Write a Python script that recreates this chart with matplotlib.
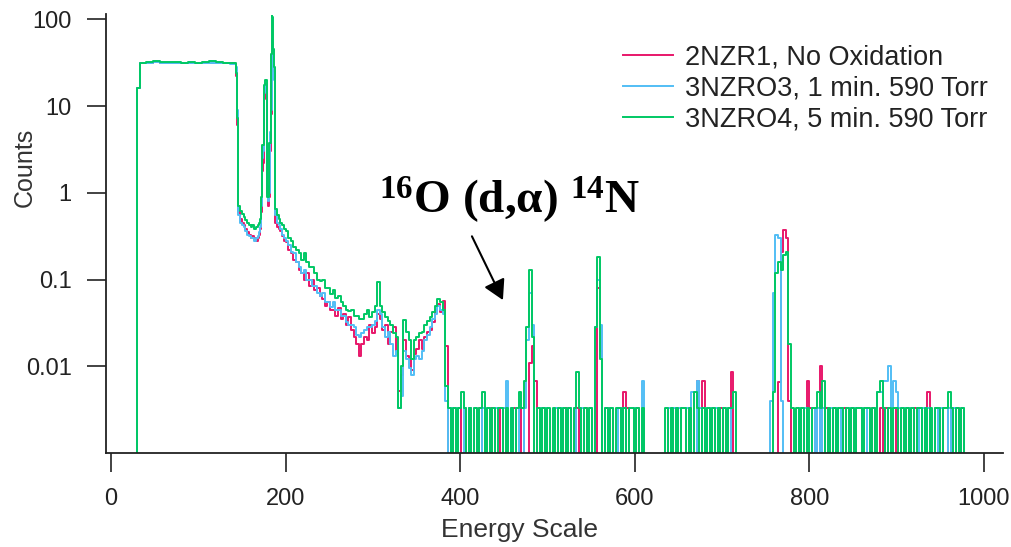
import numpy as np
import matplotlib
matplotlib.use("Agg")
import matplotlib.pyplot as plt
from matplotlib.ticker import NullLocator

plt.rcParams['font.family'] = ['Liberation Sans', 'DejaVu Sans']
plt.rcParams['mathtext.fontset'] = 'custom'
plt.rcParams['mathtext.rm'] = 'Liberation Serif:bold'
plt.rcParams['mathtext.it'] = 'Liberation Serif:bold:italic'
plt.rcParams['mathtext.bf'] = 'Liberation Serif:bold'

labels = ['2NZR1, No Oxidation', '3NZRO3, 1 min. 590 Torr', '3NZRO4, 5 min. 590 Torr']
colors = ['#E8176A', '#52BEF5', '#00C864']

# channel grid (energy scale) for the structured part of the spectrum
e_head = [29, 30, 33, 40, 48, 56, 64, 72, 80, 88, 96, 104, 112, 120, 128, 136, 142]
e_edge = [143, 144, 145, 146, 148, 150, 152, 154, 156, 158, 160, 162, 164, 166, 168,
          170, 171, 172, 173, 174, 175, 176, 177, 178, 179, 180, 181, 182, 183, 184,
          185, 186, 187, 188, 190, 192, 194, 196, 198]
e_tail = list(range(200, 386, 3))

# plateau
red_head = [0, 16, 31, 31.5, 32, 31.5, 31, 31.5, 31.5, 31, 31, 31.5, 31.5, 31, 31, 31, 30.5]
blue_head = [0, 16, 31, 31.5, 32, 31.5, 31, 31, 31.5, 31, 31, 31, 31.5, 31, 31, 30.5, 30.5]
green_head = [0, 16, 31, 32, 33, 32.5, 32, 32, 31.5, 32, 31.5, 32, 33, 32, 31.5, 31, 31]

# edge + twin peaks near 175 / 185
red_edge = [22, 6, 0.9, 0.6, 0.5, 0.45, 0.42, 0.38, 0.35, 0.33, 0.3, 0.32, 0.3, 0.28, 0.3,
            0.33, 0.38, 0.6, 1.8, 2.2, 12, 15, 16, 14, 1, 0.7, 0.9, 3, 8, 18,
            28, 30, 25, 0.45, 0.4, 0.38, 0.36, 0.32, 0.28]
blue_edge = [28, 9, 1.5, 0.55, 0.45, 0.42, 0.4, 0.36, 0.33, 0.32, 0.3, 0.3, 0.28, 0.3, 0.32,
             0.35, 0.4, 0.7, 2.5, 3, 14, 16, 18, 15, 1.2, 0.8, 1, 5, 9, 60,
             55, 30, 20, 0.55, 0.45, 0.42, 0.38, 0.33, 0.3]
green_edge = [24, 7.3, 0.8, 0.7, 0.62, 0.57, 0.52, 0.48, 0.45, 0.42, 0.4, 0.42, 0.38, 0.4, 0.42,
              0.45, 0.5, 0.9, 3.6, 3.6, 17.6, 18, 20, 20, 0.9, 0.9, 3.7, 3.7, 40, 110,
              105, 45, 28, 0.65, 0.55, 0.5, 0.45, 0.42, 0.38]

# decreasing tail 200..383
red_tail = [0.27, 0.22, 0.2, 0.17, 0.16, 0.13, 0.12, 0.1, 0.12, 0.085,
            0.1, 0.075, 0.08, 0.065, 0.06, 0.05, 0.055, 0.045, 0.045, 0.038,
            0.047, 0.035, 0.04, 0.03, 0.037, 0.026, 0.022, 0.018, 0.013, 0.018,
            0.022, 0.02, 0.03, 0.024, 0.028, 0.04, 0.035, 0.026, 0.03, 0.018,
            0.025, 0.028, 0.015, 0.0052, 0.008, 0.02, 0.013, 0.012, 0.009, 0.014,
            0.016, 0.02, 0.016, 0.022, 0.025, 0.026, 0.032, 0.045, 0.052, 0.042,
            0.056, 0.017]
blue_tail = [0.28, 0.25, 0.21, 0.2, 0.16, 0.14, 0.12, 0.13, 0.1, 0.1,
             0.085, 0.085, 0.07, 0.064, 0.07, 0.055, 0.055, 0.048, 0.055, 0.045,
             0.045, 0.038, 0.038, 0.032, 0.03, 0.03, 0.028, 0.023, 0.022, 0.024,
             0.026, 0.028, 0.028, 0.03, 0.033, 0.045, 0.04, 0.028, 0.022, 0.025,
             0.018, 0.013, 0.015, 0.0033, 0.0046, 0.015, 0.012, 0.0096, 0.008, 0.012,
             0.013, 0.012, 0.015, 0.02, 0.023, 0.028, 0.035, 0.04, 0.05, 0.045,
             0.04, 0.004]
green_tail = [0.36, 0.3, 0.28, 0.24, 0.22, 0.2, 0.17, 0.2, 0.16, 0.14,
              0.14, 0.12, 0.1, 0.095, 0.1, 0.08, 0.08, 0.068, 0.075, 0.062,
              0.064, 0.055, 0.05, 0.045, 0.043, 0.045, 0.038, 0.038, 0.035, 0.035,
              0.04, 0.045, 0.037, 0.042, 0.05, 0.094, 0.049, 0.042, 0.037, 0.033,
              0.03, 0.024, 0.022, 0.0033, 0.01, 0.034, 0.025, 0.02, 0.012, 0.02,
              0.022, 0.024, 0.025, 0.03, 0.033, 0.037, 0.042, 0.05, 0.06, 0.055,
              0.045, 0.006]

# low-count region from 386, 3-channel bins, one digit per bin
NOISE_START = 386
NOISE_BIN = 3
noise_levels = {'0': 0.0, '1': 0.0033, '2': 0.005, '3': 0.0067, '4': 0.0085, '5': 0.01}

red_noise = ("0100100010" "0010001001" "0100010010" "0000001000" "0100010001"
             "0010000000" "0100001210" "0010000000" "0000010010" "0010031300"
             "0100100140" "0000000000" "0000000000" "0000100310" "1050100100"
             "0100100010" "0010010100" "0100010010" "0002001000" "01001000" "0")
blue_noise = ("0101001010" "1001010010" "0130101001" "0000010100" "0101001010"
              "0100100000" "1010010100" "0100300000" "0000101010" "0102031010"
              "1010010100" "0000000000" "0000000000" "0000101001" "0101001010"
              "1001010010" "1001223351" "3210101001" "0101001010" "01010010" "0")
green_noise = ("1010121010" "1012010101" "1010101213" "0000101010" "1010101014"
               "1010100000" "1010110101" "1010100000" "0001010101" "1010210101"
               "0101010112" "0000000000" "0000000000" "0001010101" "1213010101"
               "1010101101" "1010231010" "1101010101" "1010101101" "12101010" "0")

# narrow reaction peaks (bin start -> value)
red_peaks = {479: 0.011, 482: 0.017, 485: 0.0067, 557: 0.08, 560: 0.015,
             764: 0.0066, 767: 0.21, 770: 0.37, 773: 0.3, 776: 0.004}
blue_peaks = {476: 0.02, 479: 0.07, 482: 0.03, 554: 0.028, 557: 0.1, 560: 0.03,
              755: 0.004, 758: 0.07, 761: 0.33, 764: 0.3, 767: 0.004}
green_peaks = {476: 0.028, 479: 0.13, 482: 0.022, 554: 0.028, 557: 0.18, 560: 0.012,
               758: 0.005, 761: 0.12, 764: 0.16, 767: 0.13, 770: 0.19, 773: 0.21,
               776: 0.018, 779: 0.0033}


def build(head, edge, tail, noise, peaks):
    e_noise = [NOISE_START + NOISE_BIN * i for i in range(len(noise))]
    v_noise = [peaks.get(e, noise_levels[c]) for e, c in zip(e_noise, noise)]
    e = np.array(e_head + e_edge + e_tail + e_noise, dtype=float)
    v = np.array(head + edge + tail + v_noise, dtype=float)
    return e, v


series = [
    build(red_head, red_edge, red_tail, red_noise, red_peaks),
    build(blue_head, blue_edge, blue_tail, blue_noise, blue_peaks),
    build(green_head, green_edge, green_tail, green_noise, green_peaks),
]

fig = plt.figure(figsize=(10.12, 5.47), dpi=100)
ax = fig.add_axes([0.1047, 0.1718, 0.8864, 0.8026])

for (e, v), lab, col in zip(series, labels, colors):
    ax.plot(e, v, drawstyle='steps-post', color=col, lw=1.4, label=lab)

ax.set_yscale('log', nonpositive='clip')
ax.set_xlim(-5.7, 1021.8)
ax.set_ylim(0.001, 115)
ax.set_yticks([0.01, 0.1, 1, 10, 100], labels=['0.01', '0.1', '1', '10', '100'])
ax.yaxis.set_minor_locator(NullLocator())
ax.set_xticks([0, 200, 400, 600, 800, 1000])

for s in ['top', 'right']:
    ax.spines[s].set_visible(False)
for s in ['left', 'bottom']:
    ax.spines[s].set_linewidth(1.3)
    ax.spines[s].set_color('#222222')

ax.tick_params(axis='both', direction='out', length=13.7, width=1.2, color='#222222',
               labelsize=17, labelcolor='#222222')
ax.tick_params(axis='y', pad=11)
ax.tick_params(axis='x', pad=11.5)

ax.set_ylabel('Counts', fontsize=18, color='#333333', va='center')
ax.yaxis.set_label_coords(-0.0903, 0.651)
ax.set_xlabel('Energy Scale', fontsize=19, color='#333333', va='center')
ax.xaxis.set_label_coords(0.4615, -0.1754)

leg = ax.legend(loc='upper left', bbox_to_anchor=(0.6156, 0.919), bbox_transform=fig.transFigure,
                frameon=False, fontsize=19.5, handlelength=1.85, handletextpad=0.44,
                labelspacing=0.18, borderpad=0, borderaxespad=0)
for t in leg.get_texts():
    t.set_color('#222222')

ax.text(456.5, 0.594, r'$^{16}$O (d,α) $^{14}$N', family='Liberation Serif', weight='bold',
        fontsize=34, ha='center', va='baseline', color='black')
ax.annotate('', xy=(449, 0.058), xytext=(413.5, 0.315),
            arrowprops=dict(arrowstyle='-|>,head_length=0.6,head_width=0.34', color='black',
                            lw=1.5, mutation_scale=20, shrinkA=0, shrinkB=0))

fig.savefig('out.png', dpi=100)
